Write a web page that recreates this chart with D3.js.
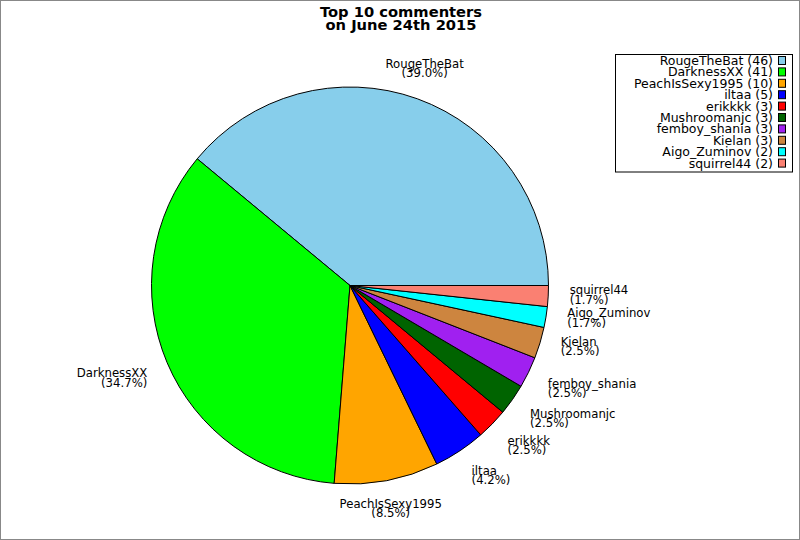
<!DOCTYPE html>
<html>
<head>
<meta charset="utf-8">
<script src="https://cdn.jsdelivr.net/npm/d3@7"></script>
<style>
  body { margin: 0; background: #fff; }
  svg { display: block; }
</style>
</head>
<body>
<div id="chart"></div>
<script>
// Data
const names = ["RougeTheBat", "DarknessXX", "PeachIsSexy1995", "iltaa", "erikkkk",
    "Mushroomanjc", "femboy_shania", "Kielan", "Aigo_Zuminov", "squirrel44"];
const counts = [46, 41, 10, 5, 3, 3, 3, 3, 2, 2];
const colors = ["#87ceeb", "#00ff00", "#ffa500", "#0000ff", "#ff0000",
    "#006400", "#a020f0", "#cd853f", "#00ffff", "#fa8072"];
const titleLines = ["Top 10 commenters", "on June 24th 2015"];

const width = 800, height = 540;
const cx = 350, cy = 285.5, radius = 198.5, labelR = 220;
const total = d3.sum(counts);

const svg = d3.select("#chart")
    .append("svg")
        .attr("width", width)
        .attr("height", height);

// gray frame round the picture
svg.append("rect")
    .attr("x", 0.5).attr("y", 0.5)
    .attr("width", width - 1).attr("height", height - 1)
    .attr("fill", "#fff")
    .attr("stroke", "#888");

// Title
svg.append("text")
    .attr("text-anchor", "middle")
    .style("font", "bold 14.7px 'DejaVu Sans'")
    .selectAll("tspan")
    .data(titleLines)
    .join("tspan")
        .attr("x", 401)
        .attr("y", (d, i) => 16.5 + i * 13.5)
        .text(d => d);

// Pie: counter-clockwise starting at 3 o'clock
const pie = d3.pie()
    .sort(null)
    .startAngle(Math.PI / 2)
    .endAngle(Math.PI / 2 - 2 * Math.PI);

const arcs = pie(counts).map((a, i) => Object.assign(a, {name: names[i], color: colors[i]}));

const arc = d3.arc().innerRadius(0).outerRadius(radius);

const g = svg.append("g")
    .attr("transform", `translate(${cx},${cy})`);

g.selectAll("path")
    .data(arcs)
    .join("path")
        .attr("d", arc)
        .attr("fill", d => d.color)
        .attr("stroke", "#000")
        .attr("stroke-width", 1)
        .attr("stroke-linejoin", "round");

// Slice labels
const deg20 = Math.sin(20 * Math.PI / 180);
arcs.forEach(function(d) {
    const a = (d.startAngle + d.endAngle) / 2;
    const cosT = Math.sin(a), sinT = Math.cos(a);
    const px = labelR * cosT, py = -labelR * sinT;
    let anchor = "middle";
    if (Math.abs(cosT) >= 0.5) anchor = cosT > 0 ? "start" : "end";
    let b1;
    if (sinT > deg20) b1 = py - 10.5;
    else if (sinT < -deg20) b1 = py + 6.2;
    else b1 = py - 3;
    const pct = (d.value / total * 100).toFixed(1);
    g.append("text")
        .attr("text-anchor", anchor)
        .style("font", "11.7px 'DejaVu Sans'")
        .selectAll("tspan")
        .data([d.name, "(" + pct + "%)"])
        .join("tspan")
            .attr("x", px)
            .attr("y", (t, i) => b1 + i * 9.3)
            .text(t => t);
});

// Legend
const legend = svg.append("g");
legend.append("rect")
    .attr("x", 615.5).attr("y", 54.5)
    .attr("width", 177).attr("height", 117.5)
    .attr("fill", "#fff")
    .attr("stroke", "#000");

const rows = legend.selectAll("g.row")
    .data(arcs)
    .join("g")
        .attr("class", "row")
        .attr("transform", (d, i) => `translate(0,${65 + i * 11.4})`);

rows.append("text")
    .attr("x", 773)
    .attr("text-anchor", "end")
    .style("font", "12.5px 'DejaVu Sans'")
    .text(d => `${d.name} (${d.value})`);

rows.append("rect")
    .attr("x", 778.5).attr("y", -8.5)
    .attr("width", 7).attr("height", 8)
    .attr("fill", d => d.color)
    .attr("stroke", "#000");
</script>
</body>
</html>
